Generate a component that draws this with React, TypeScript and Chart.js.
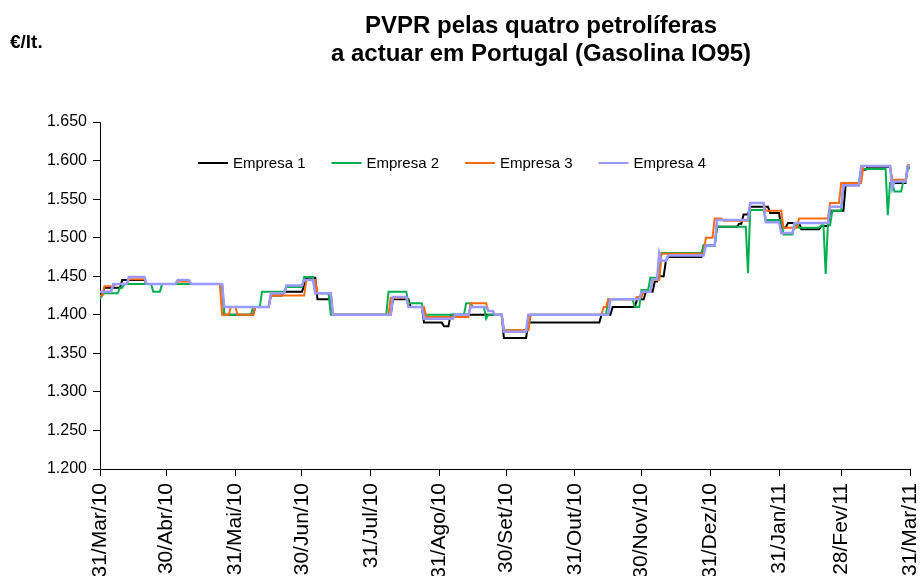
import { useEffect, useRef } from "react";
import { Chart, registerables } from "chart.js";

Chart.register(...registerables);

// Axis ticks (day index from 31/Mar/10)
const tickDays = [0, 30, 61, 91, 122, 153, 183, 214, 244, 275, 306, 334, 365];
const tickLabels = [
  "31/Mar/10", "30/Abr/10", "31/Mai/10", "30/Jun/10", "31/Jul/10", "31/Ago/10",
  "30/Set/10", "31/Out/10", "30/Nov/10", "31/Dez/10", "31/Jan/11", "28/Fev/11", "31/Mar/11",
];

const seriesNames = ["Empresa 1", "Empresa 2", "Empresa 3", "Empresa 4"];
const seriesColors = ["#000000", "#00B050", "#FF6A10", "#9999FF"];

// Price changes: day on which a new price starts, and the price (€/lt.)
const e1Days = [0, 2, 10, 21, 56, 70, 77, 83, 92, 93, 98, 105, 132, 140, 146, 155, 158, 182, 193, 226, 231, 242, 246, 250, 252, 255, 256, 272, 278, 288, 290, 293, 302, 307, 310, 316, 325, 329, 336, 343, 346, 357, 364];
const e1Vals = [1.425, 1.435, 1.445, 1.44, 1.40, 1.41, 1.425, 1.43, 1.438, 1.448, 1.42, 1.40, 1.42, 1.41, 1.39, 1.385, 1.40, 1.37, 1.39, 1.40, 1.41, 1.42, 1.43, 1.443, 1.45, 1.47, 1.475, 1.49, 1.514, 1.518, 1.53, 1.54, 1.532, 1.513, 1.519, 1.511, 1.515, 1.535, 1.568, 1.588, 1.592, 1.571, 1.592];

const e2Days = [0, 1, 9, 11, 24, 28, 56, 69, 73, 84, 92, 97, 104, 130, 139, 146, 165, 168, 174, 175, 182, 194, 229, 241, 244, 248, 253, 272, 278, 292, 293, 300, 308, 313, 315, 325, 327, 328, 330, 335, 343, 355, 356, 358, 362, 364];
const e2Vals = [1.42, 1.428, 1.435, 1.44, 1.43, 1.44, 1.40, 1.41, 1.43, 1.436, 1.449, 1.428, 1.40, 1.43, 1.415, 1.40, 1.415, 1.41, 1.395, 1.40, 1.38, 1.40, 1.42, 1.41, 1.432, 1.448, 1.48, 1.49, 1.514, 1.454, 1.536, 1.523, 1.504, 1.516, 1.513, 1.516, 1.453, 1.516, 1.535, 1.571, 1.589, 1.529, 1.571, 1.56, 1.573, 1.59];

const e3Days = [0, 2, 7, 13, 21, 35, 41, 55, 59, 62, 70, 77, 93, 98, 105, 131, 139, 147, 167, 175, 178, 182, 194, 227, 229, 242, 245, 249, 253, 273, 277, 281, 293, 300, 308, 315, 329, 334, 344, 357, 364];
const e3Vals = [1.425, 1.437, 1.44, 1.446, 1.44, 1.443, 1.44, 1.40, 1.41, 1.40, 1.41, 1.425, 1.445, 1.428, 1.40, 1.422, 1.41, 1.397, 1.415, 1.405, 1.40, 1.38, 1.40, 1.41, 1.42, 1.423, 1.43, 1.445, 1.479, 1.50, 1.525, 1.522, 1.545, 1.535, 1.513, 1.525, 1.545, 1.571, 1.593, 1.575, 1.594];

const e4Days = [0, 6, 13, 21, 35, 41, 56, 77, 84, 92, 97, 105, 132, 139, 146, 160, 167, 175, 178, 182, 193, 230, 244, 249, 252, 253, 256, 273, 278, 293, 300, 307, 313, 329, 335, 343, 357, 358, 364];
const e4Vals = [1.43, 1.44, 1.449, 1.44, 1.445, 1.44, 1.41, 1.428, 1.438, 1.445, 1.428, 1.40, 1.423, 1.41, 1.395, 1.40, 1.41, 1.405, 1.40, 1.378, 1.40, 1.42, 1.43, 1.446, 1.48, 1.47, 1.477, 1.49, 1.523, 1.545, 1.52, 1.506, 1.519, 1.54, 1.568, 1.593, 1.564, 1.573, 1.593];

const LAST_DAY = 365;

function toPoints(days: number[], vals: number[]) {
  const pts: { x: number; y: number }[] = [];
  for (let i = 0; i < days.length; i++) {
    if (i > 0 && days[i] - 1 > days[i - 1]) pts.push({ x: days[i] - 1, y: vals[i - 1] });
    pts.push({ x: days[i], y: vals[i] });
  }
  if (days[days.length - 1] < LAST_DAY) pts.push({ x: LAST_DAY, y: vals[vals.length - 1] });
  return pts;
}

const FONT = "Arial, 'Liberation Sans', sans-serif";

const decorPlugin = {
  id: "decor",
  beforeDraw(chart: any) {
    const ctx = chart.ctx;
    ctx.save();
    ctx.fillStyle = "#ffffff";
    ctx.fillRect(0, 0, chart.width, chart.height);
    ctx.restore();
  },
  afterDraw(chart: any) {
    const ctx = chart.ctx;
    ctx.save();
    ctx.fillStyle = "#000";
    ctx.textAlign = "center";
    ctx.textBaseline = "alphabetic";
    ctx.font = `bold 24px ${FONT}`;
    ctx.fillText("PVPR pelas quatro petrolíferas", 541, 33);
    ctx.fillText("a actuar em Portugal (Gasolina IO95)", 541, 61);
    ctx.textAlign = "left";
    ctx.font = `bold 19px ${FONT}`;
    ctx.fillText("€/lt.", 10, 48);

    // legend
    const startX = 198;
    const step = 133.5;
    const y = 163;
    ctx.font = `15px ${FONT}`;
    ctx.textBaseline = "middle";
    chart.data.datasets.forEach((ds: any, i: number) => {
      const x = startX + i * step;
      ctx.strokeStyle = ds.borderColor;
      ctx.lineWidth = 2;
      ctx.beginPath();
      ctx.moveTo(x, y);
      ctx.lineTo(x + 30, y);
      ctx.stroke();
      ctx.fillStyle = "#000";
      ctx.fillText(ds.label, x + 35, y + 1);
    });
    ctx.restore();
  },
};

export default function App() {
  const ref = useRef<HTMLCanvasElement | null>(null);

  useEffect(() => {
    document.body.style.margin = "0";
    const canvas = ref.current;
    if (!canvas) return;
    const seriesDays = [e1Days, e2Days, e3Days, e4Days];
    const seriesVals = [e1Vals, e2Vals, e3Vals, e4Vals];
    const datasets = seriesNames.map((name, i) => ({
      label: name,
      data: toPoints(seriesDays[i], seriesVals[i]),
      borderColor: seriesColors[i],
      backgroundColor: seriesColors[i],
      borderWidth: i === 3 ? 2.5 : 2,
      pointRadius: 0,
      tension: 0,
      fill: false,
      order: 4 - i,
    }));

    const chart = new Chart(canvas, {
      type: "line",
      data: { datasets },
      options: {
        animation: false,
        responsive: false,
        events: [],
        layout: { padding: { top: 122, right: 13, left: 0, bottom: 0 } },
        plugins: {
          legend: { display: false },
          tooltip: { enabled: false },
          title: { display: false },
        },
        scales: {
          x: {
            type: "linear",
            min: 0,
            max: LAST_DAY,
            afterBuildTicks: (s: any) => {
              s.ticks = tickDays.map((v) => ({ value: v }));
            },
            afterFit: (s: any) => {
              s.height = 107;
              s.paddingRight = 0;
              s.paddingLeft = 0;
            },
            ticks: {
              autoSkip: false,
              maxRotation: 90,
              minRotation: 90,
              padding: 7,
              color: "#000",
              font: { size: 21, family: FONT },
              callback: (_v: any, idx: number) => tickLabels[idx] ?? "",
            },
            grid: { drawOnChartArea: false, drawTicks: true, tickLength: 7, color: "#000" },
            border: { color: "#000", width: 1 },
          },
          y: {
            min: 1.2,
            max: 1.65,
            afterFit: (s: any) => {
              s.width = 100;
            },
            ticks: {
              stepSize: 0.05,
              padding: 6,
              color: "#000",
              font: { size: 16, family: FONT },
              callback: (v: any) => Number(v).toFixed(3),
            },
            grid: { drawOnChartArea: false, drawTicks: true, tickLength: 7, color: "#000" },
            border: { color: "#000", width: 1 },
          },
        },
      },
      plugins: [decorPlugin],
    });
    return () => chart.destroy();
  }, []);

  return <canvas ref={ref} width={923} height={576} style={{ display: "block" }} />;
}
